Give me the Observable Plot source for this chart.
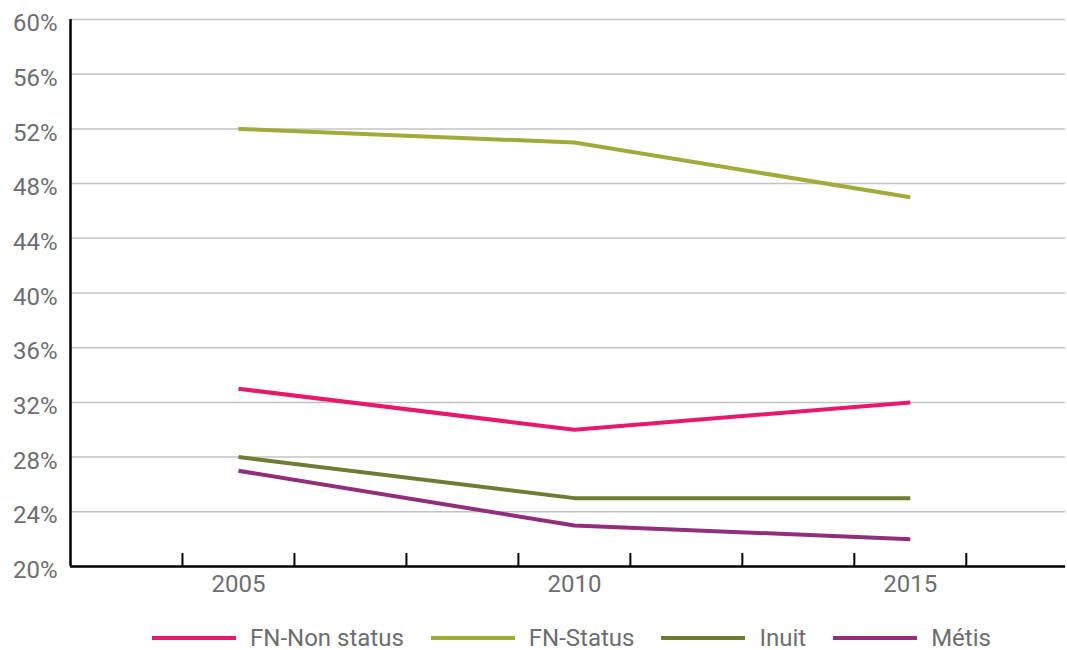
<!DOCTYPE html>
<html>
<head>
<meta charset="utf-8">
<script src="https://cdn.jsdelivr.net/npm/d3@7"></script>
<script src="https://cdn.jsdelivr.net/npm/@observablehq/plot@0.6"></script>
<style>
  html, body { margin: 0; padding: 0; background: #fff; }
  #chart svg { display: block; }
  #legend { display: flex; align-items: center; margin-left: 152px; margin-top: 14px; height: 28px;
            font-family: Roboto, sans-serif; font-size: 24px; color: #6d6e71; }
  .item { display: flex; align-items: center; margin-right: 27px; }
  .sw { width: 84px; height: 4px; margin-right: 14px; }
</style>
</head>
<body>
<div id="chart"></div>
<div id="legend"></div>
<script>
const years = [2005, 2010, 2015];
const fnNonStatus = [33, 30, 32];
const fnStatus = [52, 51, 47];
const inuit = [28, 25, 25];
const metis = [27, 23, 22];
const seriesNames = ["FN-Non status", "FN-Status", "Inuit", "Métis"];
const seriesColors = ["#e8186c", "#a3aa3a", "#6e7c34", "#922f7c"];
const yTicks = [20, 24, 28, 32, 36, 40, 44, 48, 52, 56, 60];

const seriesValues = [fnNonStatus, fnStatus, inuit, metis];
const rows = seriesNames.flatMap((s, i) => years.map((y, j) => ({year: y, value: seriesValues[i][j], series: s})));

// category slots of the original axis (3 slots per 5 years)
const xDomain = [2002.5, 2017.31];
const slot = 5 / 3;
const boundaries = d3.range(xDomain[0] + slot, xDomain[1], slot);

const chart = Plot.plot({
  width: 1067,
  height: 610,
  marginLeft: 70,
  marginRight: 2,
  marginTop: 19,
  marginBottom: 44,
  style: {fontFamily: "Roboto, sans-serif", fontSize: "24px", color: "#6d6e71"},
  x: {type: "linear", domain: xDomain, label: null},
  y: {domain: [20, 60], label: null},
  color: {domain: seriesNames, range: seriesColors},
  marks: [
    Plot.ruleY(yTicks.filter(d => d > 20), {stroke: "#c4c4c4", strokeWidth: 1.5}),
    Plot.axisY({ticks: yTicks, tickSize: 0, tickPadding: 13, tickFormat: d => d + "%", fill: "#6d6e71", dy: 4, fontSize: 24, label: null}),
    Plot.axisX({ticks: years, tickSize: 0, tickPadding: 8, tickFormat: d => String(d), fill: "#6d6e71", fontSize: 24, label: null}),
    Plot.line(rows, {x: "year", y: "value", z: "series", stroke: "series", strokeWidth: 4, strokeLinecap: "butt", strokeLinejoin: "miter"}),
    Plot.ruleX(boundaries, {stroke: "#000", strokeWidth: 2, insetTop: 534}),
    Plot.ruleX([xDomain[0]], {stroke: "#000", strokeWidth: 2.5}),
    Plot.ruleY([20], {stroke: "#000", strokeWidth: 2.5})
  ]
});
document.getElementById("chart").appendChild(chart);

const legend = document.getElementById("legend");
seriesNames.forEach((s, i) => {
  const item = document.createElement("div");
  item.className = "item";
  const sw = document.createElement("div");
  sw.className = "sw";
  sw.style.background = seriesColors[i];
  const t = document.createElement("span");
  t.textContent = s;
  item.appendChild(sw);
  item.appendChild(t);
  legend.appendChild(item);
});
</script>
</body>
</html>
